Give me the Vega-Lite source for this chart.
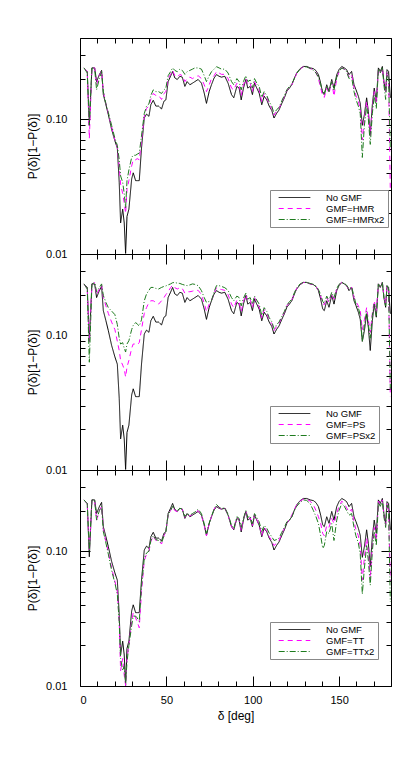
{
"$schema": "https://vega.github.io/schema/vega-lite/v6.json",
"autosize": {"type": "pad"},
"padding": {"left": 25, "top": 37, "right": 5, "bottom": 5},
"background": "white",
"bounds": "flush",
"config": {
  "font": "Liberation Sans",
  "view": {"stroke": "black", "strokeWidth": 1},
  "axis": {"domain": false, "grid": false, "tickColor": "black", "tickWidth": 1, "labelColor": "black", "titleColor": "black", "labelFont": "Liberation Sans", "titleFont": "Liberation Sans", "labelFontSize": 11, "titleFontSize": 12, "titleFontWeight": "normal"},
  "legend": {"orient": "none", "legendX": 190, "legendY": 152, "title": null, "symbolType": "stroke", "symbolSize": 1000, "symbolStrokeWidth": 1, "symbolOffset": 5, "clipHeight": 9, "strokeColor": "#888888", "fillColor": "white", "padding": 3, "rowPadding": 1, "labelFontSize": 9.5, "labelFont": "Liberation Sans", "labelColor": "black", "labelOffset": 15, "cornerRadius": 0}
},
"datasets": {"d": [
{"d":2.3,"k":0.24,"h":0.24,"h2":0.24,"p":0.24,"p2":0.24,"t":0.24,"t2":0.24},
{"d":4.2,"k":0.226,"h":0.226,"h2":0.22,"p":0.22,"p2":0.22,"t":0.225,"t2":0.225},
{"d":5.4,"k":0.091,"h":0.072,"h2":0.09,"p":0.088,"p2":0.063,"t":0.1,"t2":0.1},
{"d":6.9,"k":0.24,"h":0.24,"h2":0.24,"p":0.24,"p2":0.24,"t":0.24,"t2":0.24},
{"d":8.5,"k":0.24,"h":0.24,"h2":0.235,"p":0.245,"p2":0.245,"t":0.235,"t2":0.235},
{"d":9.6,"k":0.19,"h":0.18,"h2":0.165,"p":0.2,"p2":0.21,"t":0.17,"t2":0.17},
{"d":11.2,"k":0.214,"h":0.21,"h2":0.2,"p":0.22,"p2":0.225,"t":0.2,"t2":0.2},
{"d":12.5,"k":0.23,"h":0.228,"h2":0.225,"p":0.235,"p2":0.24,"t":0.215,"t2":0.215},
{"d":13.5,"k":0.152,"h":0.16,"h2":0.16,"p":0.19,"p2":0.197,"t":0.145,"t2":0.14},
{"d":15,"k":0.128,"h":0.13,"h2":0.13,"p":0.165,"p2":0.175,"t":0.118,"t2":0.115},
{"d":16.4,"k":0.108,"h":0.11,"h2":0.112,"p":0.145,"p2":0.16,"t":0.098,"t2":0.095},
{"d":18.3,"k":0.084,"h":0.088,"h2":0.09,"p":0.125,"p2":0.151,"t":0.075,"t2":0.072},
{"d":20.2,"k":0.069,"h":0.07,"h2":0.072,"p":0.11,"p2":0.142,"t":0.06,"t2":0.058},
{"d":21.6,"k":0.061,"h":0.062,"h2":0.064,"p":0.09,"p2":0.12,"t":0.05,"t2":0.048},
{"d":22.7,"k":0.034,"h":0.045,"h2":0.05,"p":0.077,"p2":0.095,"t":0.03,"t2":0.03},
{"d":23.5,"k":0.017,"h":0.033,"h2":0.038,"p":0.065,"p2":0.086,"t":0.013,"t2":0.016},
{"d":24.7,"k":0.0215,"h":0.028,"h2":0.034,"p":0.06,"p2":0.088,"t":0.016,"t2":0.013},
{"d":25.6,"k":0.017,"h":0.024,"h2":0.028,"p":0.056,"p2":0.08,"t":0.012,"t2":0.014},
{"d":26.4,"k":0.0101,"h":0.02,"h2":0.022,"p":0.049,"p2":0.075,"t":0.0101,"t2":0.0105},
{"d":27.2,"k":0.019,"h":0.03,"h2":0.035,"p":0.058,"p2":0.086,"t":0.016,"t2":0.015},
{"d":28.3,"k":0.0215,"h":0.035,"h2":0.042,"p":0.065,"p2":0.091,"t":0.02,"t2":0.02},
{"d":29.9,"k":0.036,"h":0.045,"h2":0.052,"p":0.08,"p2":0.11,"t":0.03,"t2":0.028},
{"d":30.8,"k":0.04,"h":0.05,"h2":0.054,"p":0.086,"p2":0.118,"t":0.035,"t2":0.033},
{"d":32.2,"k":0.035,"h":0.05,"h2":0.054,"p":0.086,"p2":0.124,"t":0.032,"t2":0.033},
{"d":33.1,"k":0.035,"h":0.051,"h2":0.055,"p":0.085,"p2":0.121,"t":0.03,"t2":0.032},
{"d":34.3,"k":0.035,"h":0.05,"h2":0.056,"p":0.088,"p2":0.117,"t":0.027,"t2":0.03},
{"d":35.6,"k":0.061,"h":0.07,"h2":0.075,"p":0.11,"p2":0.13,"t":0.05,"t2":0.055},
{"d":37.2,"k":0.102,"h":0.105,"h2":0.11,"p":0.145,"p2":0.18,"t":0.085,"t2":0.088},
{"d":38.5,"k":0.109,"h":0.12,"h2":0.125,"p":0.16,"p2":0.202,"t":0.095,"t2":0.097},
{"d":39.9,"k":0.105,"h":0.125,"h2":0.13,"p":0.175,"p2":0.215,"t":0.1,"t2":0.1},
{"d":41,"k":0.128,"h":0.14,"h2":0.15,"p":0.18,"p2":0.226,"t":0.118,"t2":0.12},
{"d":42.4,"k":0.138,"h":0.155,"h2":0.165,"p":0.18,"p2":0.226,"t":0.13,"t2":0.13},
{"d":43.9,"k":0.125,"h":0.15,"h2":0.16,"p":0.175,"p2":0.222,"t":0.12,"t2":0.122},
{"d":45.5,"k":0.125,"h":0.15,"h2":0.16,"p":0.17,"p2":0.22,"t":0.12,"t2":0.12},
{"d":47.2,"k":0.119,"h":0.14,"h2":0.155,"p":0.18,"p2":0.226,"t":0.113,"t2":0.115},
{"d":48.6,"k":0.136,"h":0.155,"h2":0.165,"p":0.19,"p2":0.23,"t":0.13,"t2":0.13},
{"d":49.7,"k":0.139,"h":0.16,"h2":0.17,"p":0.2,"p2":0.232,"t":0.14,"t2":0.14},
{"d":51,"k":0.19,"h":0.2,"h2":0.21,"p":0.21,"p2":0.236,"t":0.185,"t2":0.185},
{"d":52.4,"k":0.208,"h":0.215,"h2":0.225,"p":0.225,"p2":0.24,"t":0.2,"t2":0.2},
{"d":53.6,"k":0.226,"h":0.23,"h2":0.24,"p":0.235,"p2":0.245,"t":0.215,"t2":0.215},
{"d":54.9,"k":0.202,"h":0.21,"h2":0.23,"p":0.225,"p2":0.246,"t":0.2,"t2":0.205},
{"d":56.3,"k":0.197,"h":0.205,"h2":0.225,"p":0.22,"p2":0.243,"t":0.197,"t2":0.2},
{"d":57.8,"k":0.208,"h":0.215,"h2":0.235,"p":0.225,"p2":0.242,"t":0.208,"t2":0.208},
{"d":59.2,"k":0.205,"h":0.21,"h2":0.23,"p":0.222,"p2":0.238,"t":0.205,"t2":0.205},
{"d":60.7,"k":0.175,"h":0.19,"h2":0.215,"p":0.205,"p2":0.235,"t":0.178,"t2":0.18},
{"d":62,"k":0.19,"h":0.2,"h2":0.225,"p":0.21,"p2":0.233,"t":0.19,"t2":0.19},
{"d":63.6,"k":0.18,"h":0.205,"h2":0.23,"p":0.21,"p2":0.236,"t":0.182,"t2":0.185},
{"d":65.1,"k":0.185,"h":0.2,"h2":0.235,"p":0.212,"p2":0.24,"t":0.188,"t2":0.19},
{"d":66.5,"k":0.19,"h":0.205,"h2":0.24,"p":0.215,"p2":0.238,"t":0.192,"t2":0.195},
{"d":68.4,"k":0.197,"h":0.21,"h2":0.24,"p":0.215,"p2":0.233,"t":0.2,"t2":0.205},
{"d":70.3,"k":0.185,"h":0.2,"h2":0.235,"p":0.2,"p2":0.214,"t":0.185,"t2":0.19},
{"d":71.9,"k":0.156,"h":0.18,"h2":0.21,"p":0.172,"p2":0.19,"t":0.155,"t2":0.16},
{"d":73.2,"k":0.131,"h":0.16,"h2":0.19,"p":0.15,"p2":0.175,"t":0.13,"t2":0.135},
{"d":74.8,"k":0.161,"h":0.18,"h2":0.21,"p":0.17,"p2":0.178,"t":0.16,"t2":0.162},
{"d":76.1,"k":0.18,"h":0.2,"h2":0.225,"p":0.18,"p2":0.18,"t":0.18,"t2":0.182},
{"d":77.6,"k":0.202,"h":0.21,"h2":0.235,"p":0.205,"p2":0.21,"t":0.205,"t2":0.205},
{"d":79,"k":0.214,"h":0.225,"h2":0.245,"p":0.225,"p2":0.233,"t":0.22,"t2":0.222},
{"d":80.5,"k":0.208,"h":0.22,"h2":0.24,"p":0.22,"p2":0.233,"t":0.21,"t2":0.212},
{"d":81.9,"k":0.205,"h":0.215,"h2":0.235,"p":0.218,"p2":0.23,"t":0.205,"t2":0.207},
{"d":83.8,"k":0.208,"h":0.215,"h2":0.235,"p":0.215,"p2":0.225,"t":0.21,"t2":0.21},
{"d":85.7,"k":0.185,"h":0.2,"h2":0.22,"p":0.2,"p2":0.215,"t":0.185,"t2":0.188},
{"d":87.7,"k":0.152,"h":0.17,"h2":0.19,"p":0.17,"p2":0.19,"t":0.152,"t2":0.155},
{"d":89,"k":0.144,"h":0.165,"h2":0.18,"p":0.16,"p2":0.18,"t":0.145,"t2":0.148},
{"d":90.8,"k":0.175,"h":0.185,"h2":0.2,"p":0.182,"p2":0.195,"t":0.178,"t2":0.18},
{"d":92.1,"k":0.17,"h":0.18,"h2":0.19,"p":0.175,"p2":0.19,"t":0.172,"t2":0.175},
{"d":93.3,"k":0.139,"h":0.15,"h2":0.165,"p":0.15,"p2":0.165,"t":0.142,"t2":0.15},
{"d":94.6,"k":0.17,"h":0.18,"h2":0.19,"p":0.178,"p2":0.188,"t":0.172,"t2":0.175},
{"d":96,"k":0.197,"h":0.2,"h2":0.21,"p":0.2,"p2":0.205,"t":0.2,"t2":0.2},
{"d":97.1,"k":0.17,"h":0.18,"h2":0.19,"p":0.178,"p2":0.185,"t":0.172,"t2":0.178},
{"d":98.5,"k":0.175,"h":0.185,"h2":0.195,"p":0.183,"p2":0.19,"t":0.178,"t2":0.182},
{"d":99.8,"k":0.152,"h":0.16,"h2":0.17,"p":0.16,"p2":0.17,"t":0.155,"t2":0.16},
{"d":101,"k":0.185,"h":0.19,"h2":0.2,"p":0.19,"p2":0.195,"t":0.188,"t2":0.19},
{"d":102.3,"k":0.17,"h":0.175,"h2":0.185,"p":0.176,"p2":0.182,"t":0.172,"t2":0.178},
{"d":103.7,"k":0.156,"h":0.165,"h2":0.175,"p":0.163,"p2":0.17,"t":0.158,"t2":0.165},
{"d":105.2,"k":0.128,"h":0.135,"h2":0.145,"p":0.135,"p2":0.14,"t":0.13,"t2":0.14},
{"d":106.6,"k":0.148,"h":0.155,"h2":0.16,"p":0.155,"p2":0.16,"t":0.15,"t2":0.155},
{"d":108.1,"k":0.139,"h":0.145,"h2":0.15,"p":0.145,"p2":0.15,"t":0.142,"t2":0.148},
{"d":109.5,"k":0.125,"h":0.13,"h2":0.135,"p":0.13,"p2":0.135,"t":0.128,"t2":0.136},
{"d":111,"k":0.116,"h":0.12,"h2":0.125,"p":0.122,"p2":0.126,"t":0.12,"t2":0.128},
{"d":112.3,"k":0.102,"h":0.107,"h2":0.11,"p":0.108,"p2":0.112,"t":0.11,"t2":0.12},
{"d":113.9,"k":0.111,"h":0.115,"h2":0.118,"p":0.117,"p2":0.12,"t":0.115,"t2":0.122},
{"d":115.2,"k":0.117,"h":0.12,"h2":0.122,"p":0.122,"p2":0.125,"t":0.12,"t2":0.125},
{"d":116.8,"k":0.131,"h":0.135,"h2":0.137,"p":0.136,"p2":0.138,"t":0.135,"t2":0.138},
{"d":118.3,"k":0.144,"h":0.147,"h2":0.15,"p":0.148,"p2":0.15,"t":0.148,"t2":0.15},
{"d":119.7,"k":0.161,"h":0.163,"h2":0.165,"p":0.165,"p2":0.167,"t":0.163,"t2":0.165},
{"d":121.2,"k":0.17,"h":0.172,"h2":0.175,"p":0.175,"p2":0.177,"t":0.17,"t2":0.17},
{"d":122.6,"k":0.18,"h":0.18,"h2":0.183,"p":0.183,"p2":0.185,"t":0.185,"t2":0.18},
{"d":124.1,"k":0.202,"h":0.2,"h2":0.2,"p":0.205,"p2":0.207,"t":0.205,"t2":0.2},
{"d":125.4,"k":0.22,"h":0.218,"h2":0.218,"p":0.222,"p2":0.224,"t":0.22,"t2":0.215},
{"d":127.4,"k":0.237,"h":0.235,"h2":0.235,"p":0.238,"p2":0.24,"t":0.235,"t2":0.23},
{"d":129.3,"k":0.246,"h":0.245,"h2":0.244,"p":0.246,"p2":0.247,"t":0.243,"t2":0.24},
{"d":131.2,"k":0.246,"h":0.245,"h2":0.244,"p":0.246,"p2":0.247,"t":0.243,"t2":0.238},
{"d":133.2,"k":0.24,"h":0.238,"h2":0.238,"p":0.24,"p2":0.242,"t":0.235,"t2":0.225},
{"d":135.1,"k":0.237,"h":0.232,"h2":0.23,"p":0.237,"p2":0.238,"t":0.22,"t2":0.2},
{"d":136.6,"k":0.229,"h":0.222,"h2":0.22,"p":0.23,"p2":0.232,"t":0.2,"t2":0.18},
{"d":138,"k":0.214,"h":0.2,"h2":0.205,"p":0.215,"p2":0.218,"t":0.18,"t2":0.16},
{"d":139.3,"k":0.185,"h":0.17,"h2":0.18,"p":0.195,"p2":0.2,"t":0.16,"t2":0.13},
{"d":140.5,"k":0.156,"h":0.148,"h2":0.16,"p":0.172,"p2":0.178,"t":0.135,"t2":0.105},
{"d":141.4,"k":0.152,"h":0.145,"h2":0.155,"p":0.168,"p2":0.172,"t":0.13,"t2":0.11},
{"d":142.8,"k":0.18,"h":0.17,"h2":0.175,"p":0.19,"p2":0.195,"t":0.155,"t2":0.14},
{"d":144.1,"k":0.161,"h":0.155,"h2":0.16,"p":0.175,"p2":0.18,"t":0.15,"t2":0.135},
{"d":145.7,"k":0.197,"h":0.19,"h2":0.19,"p":0.205,"p2":0.208,"t":0.175,"t2":0.16},
{"d":147,"k":0.17,"h":0.148,"h2":0.165,"p":0.185,"p2":0.19,"t":0.16,"t2":0.12},
{"d":148.6,"k":0.214,"h":0.2,"h2":0.205,"p":0.22,"p2":0.222,"t":0.19,"t2":0.17},
{"d":149.9,"k":0.233,"h":0.225,"h2":0.225,"p":0.236,"p2":0.238,"t":0.215,"t2":0.2},
{"d":151.5,"k":0.246,"h":0.24,"h2":0.24,"p":0.246,"p2":0.247,"t":0.235,"t2":0.225},
{"d":153,"k":0.24,"h":0.235,"h2":0.235,"p":0.24,"p2":0.242,"t":0.225,"t2":0.215},
{"d":154.3,"k":0.233,"h":0.225,"h2":0.225,"p":0.233,"p2":0.235,"t":0.21,"t2":0.2},
{"d":155.7,"k":0.214,"h":0.205,"h2":0.2,"p":0.216,"p2":0.22,"t":0.195,"t2":0.185},
{"d":157.2,"k":0.226,"h":0.215,"h2":0.205,"p":0.227,"p2":0.228,"t":0.205,"t2":0.19},
{"d":158.6,"k":0.18,"h":0.17,"h2":0.16,"p":0.19,"p2":0.195,"t":0.165,"t2":0.15},
{"d":159.7,"k":0.166,"h":0.15,"h2":0.14,"p":0.178,"p2":0.17,"t":0.145,"t2":0.13},
{"d":161.1,"k":0.148,"h":0.135,"h2":0.125,"p":0.165,"p2":0.16,"t":0.13,"t2":0.115},
{"d":162.2,"k":0.131,"h":0.12,"h2":0.11,"p":0.152,"p2":0.14,"t":0.11,"t2":0.095},
{"d":163.4,"k":0.09,"h":0.07,"h2":0.052,"p":0.11,"p2":0.09,"t":0.061,"t2":0.048},
{"d":164.6,"k":0.108,"h":0.1,"h2":0.09,"p":0.13,"p2":0.12,"t":0.09,"t2":0.075},
{"d":165.9,"k":0.144,"h":0.135,"h2":0.125,"p":0.16,"p2":0.15,"t":0.125,"t2":0.11},
{"d":166.9,"k":0.114,"h":0.11,"h2":0.1,"p":0.13,"p2":0.12,"t":0.1,"t2":0.085},
{"d":168,"k":0.077,"h":0.075,"h2":0.065,"p":0.105,"p2":0.095,"t":0.062,"t2":0.056},
{"d":169.2,"k":0.128,"h":0.12,"h2":0.11,"p":0.145,"p2":0.14,"t":0.11,"t2":0.1},
{"d":170.3,"k":0.17,"h":0.16,"h2":0.15,"p":0.18,"p2":0.17,"t":0.15,"t2":0.14},
{"d":171.5,"k":0.136,"h":0.13,"h2":0.12,"p":0.15,"p2":0.14,"t":0.12,"t2":0.11},
{"d":172.7,"k":0.24,"h":0.235,"h2":0.235,"p":0.24,"p2":0.24,"t":0.235,"t2":0.23},
{"d":173.8,"k":0.226,"h":0.22,"h2":0.22,"p":0.226,"p2":0.226,"t":0.22,"t2":0.215},
{"d":175,"k":0.246,"h":0.24,"h2":0.24,"p":0.246,"p2":0.246,"t":0.24,"t2":0.235},
{"d":175.9,"k":0.19,"h":0.185,"h2":0.18,"p":0.195,"p2":0.19,"t":0.185,"t2":0.18},
{"d":176.9,"k":0.161,"h":0.16,"h2":0.14,"p":0.17,"p2":0.165,"t":0.155,"t2":0.15},
{"d":177.7,"k":0.233,"h":0.225,"h2":0.22,"p":0.233,"p2":0.232,"t":0.225,"t2":0.22},
{"d":178.6,"k":0.226,"h":0.2,"h2":0.2,"p":0.22,"p2":0.22,"t":0.2,"t2":0.2},
{"d":179.6,"k":0.144,"h":0.03,"h2":0.06,"p":0.035,"p2":0.04,"t":0.06,"t2":0.042}
]},
"data": {"name": "d"},
"spacing": 0,
"vconcat": [
{
  "width": 311, "height": 216,
  "transform": [{"fold": ["k", "h", "h2"], "as": ["s", "v"]}],
  "layer": [
    {"mark": {"type": "line", "strokeWidth": 1, "clip": true},
     "encoding": {
       "x": {"field": "d", "type": "quantitative", "scale": {"domain": [0, 180], "nice": false, "zero": false},
             "axis": {"orient": "bottom", "values": [0,10,20,30,40,50,60,70,80,90,100,110,120,130,140,150,160,170,180], "labels": false, "title": null,
                      "tickSize": {"condition": {"test": "datum.value % 50 == 0", "value": -10}, "value": -5}}},
       "y": {"field": "v", "type": "quantitative", "scale": {"type": "log", "domain": [0.01, 0.4], "nice": false},
             "axis": {"orient": "left", "values": [0.01,0.02,0.03,0.04,0.05,0.06,0.07,0.08,0.09,0.1,0.2,0.3,0.4], "labels": false, "title": null,
                      "tickSize": {"condition": {"test": "datum.value == 0.01 || abs(datum.value - 0.1) < 1e-9", "value": -10}, "value": -5}}},
       "color": {"field": "s", "type": "nominal", "scale": {"domain": ["k", "h", "h2"], "range": ["black", "#ff00ff", "#1e7b1e"]},
                 "legend": {"labelExpr": "datum.label == 'k' ? 'No  GMF' : datum.label == 'h' ? 'GMF=HMR' : 'GMF=HMRx2'"}},
       "strokeDash": {"field": "s", "type": "nominal", "scale": {"domain": ["k", "h", "h2"], "range": [[1, 0], [5, 4], [6, 2, 1, 2]]},
                 "legend": {"labelExpr": "datum.label == 'k' ? 'No  GMF' : datum.label == 'h' ? 'GMF=HMR' : 'GMF=HMRx2'"}}
     }},
    {"mark": {"type": "line", "opacity": 0},
     "encoding": {
       "x": {"field": "d", "type": "quantitative", "scale": {"domain": [0, 180], "nice": false, "zero": false},
             "axis": {"orient": "top", "values": [0,10,20,30,40,50,60,70,80,90,100,110,120,130,140,150,160,170,180], "labels": false, "title": null,
                      "tickSize": {"condition": {"test": "datum.value % 50 == 0", "value": -10}, "value": -5}}},
       "y": {"field": "v", "type": "quantitative", "scale": {"type": "log", "domain": [0.01, 0.4], "nice": false},
             "axis": {"orient": "right", "values": [0.01,0.02,0.03,0.04,0.05,0.06,0.07,0.08,0.09,0.1,0.2,0.3,0.4], "labels": false, "title": null,
                      "tickSize": {"condition": {"test": "datum.value == 0.01 || abs(datum.value - 0.1) < 1e-9", "value": -10}, "value": -5}}}
     }},
    {"mark": {"type": "line", "opacity": 0},
     "encoding": {
       "x": {"field": "d", "type": "quantitative", "scale": {"domain": [0, 180], "nice": false, "zero": false}, "axis": null},
       "y": {"field": "v", "type": "quantitative", "scale": {"type": "log", "domain": [0.01, 0.4], "nice": false},
             "axis": {"orient": "left", "values": [0.01, 0.1], "format": ".2f", "ticks": false, "labelPadding": 13,
                      "title": "P(δ)[1−P(δ)]", "titleX": -41, "titleBaseline": "bottom"}}
     }}
  ],
  "resolve": {"axis": {"x": "independent", "y": "independent"}}
},
{
  "width": 311, "height": 216,
  "transform": [{"fold": ["k", "p", "p2"], "as": ["s", "v"]}],
  "layer": [
    {"mark": {"type": "line", "strokeWidth": 1, "clip": true},
     "encoding": {
       "x": {"field": "d", "type": "quantitative", "scale": {"domain": [0, 180], "nice": false, "zero": false},
             "axis": {"orient": "bottom", "values": [0,10,20,30,40,50,60,70,80,90,100,110,120,130,140,150,160,170,180], "labels": false, "title": null,
                      "tickSize": {"condition": {"test": "datum.value % 50 == 0", "value": -10}, "value": -5}}},
       "y": {"field": "v", "type": "quantitative", "scale": {"type": "log", "domain": [0.01, 0.4], "nice": false},
             "axis": {"orient": "left", "values": [0.01,0.02,0.03,0.04,0.05,0.06,0.07,0.08,0.09,0.1,0.2,0.3,0.4], "labels": false, "title": null,
                      "tickSize": {"condition": {"test": "datum.value == 0.01 || abs(datum.value - 0.1) < 1e-9", "value": -10}, "value": -5}}},
       "color": {"field": "s", "type": "nominal", "scale": {"domain": ["k", "p", "p2"], "range": ["black", "#ff00ff", "#1e7b1e"]},
                 "legend": {"labelExpr": "datum.label == 'k' ? 'No  GMF' : datum.label == 'p' ? 'GMF=PS' : 'GMF=PSx2'"}},
       "strokeDash": {"field": "s", "type": "nominal", "scale": {"domain": ["k", "p", "p2"], "range": [[1, 0], [5, 4], [6, 2, 1, 2]]},
                 "legend": {"labelExpr": "datum.label == 'k' ? 'No  GMF' : datum.label == 'p' ? 'GMF=PS' : 'GMF=PSx2'"}}
     }},
    {"mark": {"type": "line", "opacity": 0},
     "encoding": {
       "x": {"field": "d", "type": "quantitative", "scale": {"domain": [0, 180], "nice": false, "zero": false},
             "axis": {"orient": "top", "values": [0,10,20,30,40,50,60,70,80,90,100,110,120,130,140,150,160,170,180], "labels": false, "title": null,
                      "tickSize": {"condition": {"test": "datum.value % 50 == 0", "value": -10}, "value": -5}}},
       "y": {"field": "v", "type": "quantitative", "scale": {"type": "log", "domain": [0.01, 0.4], "nice": false},
             "axis": {"orient": "right", "values": [0.01,0.02,0.03,0.04,0.05,0.06,0.07,0.08,0.09,0.1,0.2,0.3,0.4], "labels": false, "title": null,
                      "tickSize": {"condition": {"test": "datum.value == 0.01 || abs(datum.value - 0.1) < 1e-9", "value": -10}, "value": -5}}}
     }},
    {"mark": {"type": "line", "opacity": 0},
     "encoding": {
       "x": {"field": "d", "type": "quantitative", "scale": {"domain": [0, 180], "nice": false, "zero": false}, "axis": null},
       "y": {"field": "v", "type": "quantitative", "scale": {"type": "log", "domain": [0.01, 0.4], "nice": false},
             "axis": {"orient": "left", "values": [0.01, 0.1], "format": ".2f", "ticks": false, "labelPadding": 13,
                      "title": "P(δ)[1−P(δ)]", "titleX": -41, "titleBaseline": "bottom"}}
     }}
  ],
  "resolve": {"axis": {"x": "independent", "y": "independent"}}
},
{
  "width": 311, "height": 216,
  "transform": [{"fold": ["k", "t", "t2"], "as": ["s", "v"]}],
  "layer": [
    {"mark": {"type": "line", "strokeWidth": 1, "clip": true},
     "encoding": {
       "x": {"field": "d", "type": "quantitative", "scale": {"domain": [0, 180], "nice": false, "zero": false},
             "axis": {"orient": "bottom", "values": [0,10,20,30,40,50,60,70,80,90,100,110,120,130,140,150,160,170,180], "labels": false, "title": null,
                      "tickSize": {"condition": {"test": "datum.value % 50 == 0", "value": -10}, "value": -5}}},
       "y": {"field": "v", "type": "quantitative", "scale": {"type": "log", "domain": [0.01, 0.4], "nice": false},
             "axis": {"orient": "left", "values": [0.01,0.02,0.03,0.04,0.05,0.06,0.07,0.08,0.09,0.1,0.2,0.3,0.4], "labels": false, "title": null,
                      "tickSize": {"condition": {"test": "datum.value == 0.01 || abs(datum.value - 0.1) < 1e-9", "value": -10}, "value": -5}}},
       "color": {"field": "s", "type": "nominal", "scale": {"domain": ["k", "t", "t2"], "range": ["black", "#ff00ff", "#1e7b1e"]},
                 "legend": {"labelExpr": "datum.label == 'k' ? 'No  GMF' : datum.label == 't' ? 'GMF=TT' : 'GMF=TTx2'"}},
       "strokeDash": {"field": "s", "type": "nominal", "scale": {"domain": ["k", "t", "t2"], "range": [[1, 0], [5, 4], [6, 2, 1, 2]]},
                 "legend": {"labelExpr": "datum.label == 'k' ? 'No  GMF' : datum.label == 't' ? 'GMF=TT' : 'GMF=TTx2'"}}
     }},
    {"mark": {"type": "line", "opacity": 0},
     "encoding": {
       "x": {"field": "d", "type": "quantitative", "scale": {"domain": [0, 180], "nice": false, "zero": false},
             "axis": {"orient": "top", "values": [0,10,20,30,40,50,60,70,80,90,100,110,120,130,140,150,160,170,180], "labels": false, "title": null,
                      "tickSize": {"condition": {"test": "datum.value % 50 == 0", "value": -10}, "value": -5}}},
       "y": {"field": "v", "type": "quantitative", "scale": {"type": "log", "domain": [0.01, 0.4], "nice": false},
             "axis": {"orient": "right", "values": [0.01,0.02,0.03,0.04,0.05,0.06,0.07,0.08,0.09,0.1,0.2,0.3,0.4], "labels": false, "title": null,
                      "tickSize": {"condition": {"test": "datum.value == 0.01 || abs(datum.value - 0.1) < 1e-9", "value": -10}, "value": -5}}}
     }},
    {"mark": {"type": "line", "opacity": 0},
     "encoding": {
       "x": {"field": "d", "type": "quantitative", "scale": {"domain": [0, 180], "nice": false, "zero": false},
             "axis": {"orient": "bottom", "values": [0, 50, 100, 150], "ticks": false, "labelPadding": 8, "title": "δ [deg]", "titlePadding": 5}},
       "y": {"field": "v", "type": "quantitative", "scale": {"type": "log", "domain": [0.01, 0.4], "nice": false},
             "axis": {"orient": "left", "values": [0.01, 0.1], "format": ".2f", "ticks": false, "labelPadding": 13,
                      "title": "P(δ)[1−P(δ)]", "titleX": -41, "titleBaseline": "bottom"}}
     }}
  ],
  "resolve": {"axis": {"x": "independent", "y": "independent"}}
}
],
"resolve": {"scale": {"color": "independent", "strokeDash": "independent"}, "legend": {"color": "independent", "strokeDash": "independent"}}
}
